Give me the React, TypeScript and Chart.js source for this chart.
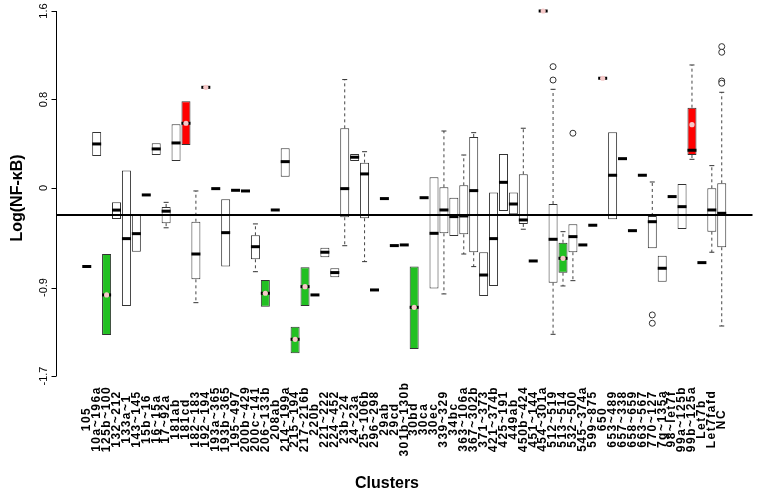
import React, { useEffect, useRef } from 'react';
import { Chart, registerables } from 'chart.js';

Chart.register(...registerables);

// ---------- data ----------
const clusters = [
  '105', '10a~196a', '125b~100', '132~212', '133a~1',
  '143~145', '15b~16', '16~15a', '17~92a', '181ab',
  '181cd', '182~183', '192~194', '193a~365', '193b~365',
  '195~497', '200b~429', '200c~141', '206~133b', '208ab',
  '214~199a', '215~194', '217~216b', '220b', '221~222',
  '224~452', '23b~24', '24~23a', '25~106b', '296~298',
  '29ab', '29cd', '301b~130b', '30bd', '30ca',
  '30ec', '339~329', '34bc', '363~106a', '367~302b',
  '371~373', '421~374b', '425~191', '449ab', '450b~424',
  '451~144', '454~301a', '512~519', '513~514', '532~500',
  '545~374a', '599~875', '650', '653~489', '657~338',
  '658~659', '663~567', '770~127', '7g~135a', '98~let7f',
  '99a~125b', '99b~125a', 'Let7b', 'Let7fafd', 'NC',
];

const medians = [
  -0.71, 0.398, -0.967, -0.2, -0.458,
  -0.413, -0.063, 0.353, -0.21, 0.407,
  0.585, -0.597, 0.91, -0.006, -0.404,
  -0.021, -0.027, -0.531, -0.952, -0.199,
  0.238, -1.368, -0.892, -0.967, -0.581,
  -0.765, -0.006, 0.278, 0.127, -0.922,
  -0.096, -0.521, -0.515, -1.079, -0.088,
  -0.41, -0.199, -0.259, -0.253, -0.024,
  -0.787, -0.458, 0.051, -0.145, -0.289,
  -0.66, 1.6, -0.464, -0.636, -0.44,
  -0.515, -0.337, 0.992, 0.115, 0.265,
  -0.386, 0.115, -0.305, -0.726, -0.078,
  -0.169, 0.341, -0.675, -0.199, -0.229,
];

const lowerQuartile = [
  null, 0.289, -1.329, -0.28, -1.067,
  -0.576, null, 0.298, -0.318, 0.244,
  0.389, -0.826, null, null, -0.711,
  null, null, -0.645, -1.073, null,
  0.102, -1.495, -1.067, null, -0.627,
  -0.808, -0.265, 0.244, -0.274, null,
  null, null, null, -1.456, null,
  -0.91, -0.41, -0.434, -0.419, -0.581,
  -0.976, -0.886, -0.208, -0.238, -0.325,
  null, null, -0.856, -0.766, -0.581,
  null, null, null, -0.283, null,
  null, null, -0.545, -0.847, null,
  -0.371, 0.298, null, -0.395, -0.536,
];

const upperQuartile = [
  null, 0.506, -0.597, -0.13, 0.157,
  -0.244, null, 0.404, -0.172, 0.576,
  0.784, -0.305, null, null, -0.102,
  null, null, -0.428, -0.832, null,
  0.359, -1.254, -0.717, null, -0.54,
  -0.726, 0.539, 0.307, 0.229, null,
  null, null, null, -0.711, null,
  0.097, 0.006, -0.088, 0.024, 0.461,
  -0.581, -0.042, 0.307, -0.042, 0.124,
  null, null, -0.145, -0.495, -0.328,
  null, null, null, 0.504, null,
  null, null, -0.253, -0.612, null,
  0.036, 0.726, null, -0.003, 0.042,
];

const lowerWhisker = [
  null, null, null, null, null,
  null, null, null, -0.36, null,
  null, -1.037, null, null, null,
  null, null, -0.757, null, null,
  null, null, null, null, null,
  null, -0.522, null, -0.666, null,
  null, null, null, null, null,
  null, -0.958, null, -0.597, -0.711,
  null, null, null, null, -0.373,
  null, null, -1.323, -0.886, -0.838,
  null, null, null, null, null,
  null, null, null, null, null,
  null, 0.259, null, -0.581, -1.248,
];

const upperWhisker = [
  null, null, null, null, null,
  null, null, null, -0.13, null,
  null, -0.027, null, null, null,
  null, null, -0.325, null, null,
  null, null, null, null, null,
  null, 0.98, null, 0.328, null,
  null, null, null, null, null,
  null, 0.515, null, 0.298, 0.5,
  null, null, null, null, 0.54,
  null, null, 0.892, -0.395, null,
  null, null, null, null, null,
  null, null, 0.054, null, null,
  null, 1.112, null, 0.202, 0.865,
];

const upClusters = ['181cd', '192~194', '454~301a', '650', '99b~125a'];
const upMeans = [0.585, 0.91, 1.6, 0.992, 0.572];
const downClusters = ['125b~100', '206~133b', '215~194', '217~216b', '30bd', '513~514'];
const downMeans = [-0.967, -0.952, -1.368, -0.892, -1.079, -0.636];

const outlierClusters = ['512~519', '512~519', '532~500', '770~127', '770~127', 'NC', 'NC', 'NC', 'NC'];
const outlierValues = [1.097, 0.976, 0.495, -1.148, -1.223, 1.278, 1.227, 0.967, 0.947];

const baselineValue = -0.244;
const yTicks = [1.6, 0.8, 0, -0.9, -1.7];
const yTitle = 'Log(NF-\u03baB)';
const xTitle = 'Clusters';

// ---------- component ----------
export default function App() {
  const ref = useRef<HTMLCanvasElement>(null);

  useEffect(() => {
    if (!ref.current) return;
    const n = clusters.length;
    const xMin = 0.5 - 0.04 * n;
    const xMax = n + 0.5 + 0.04 * n;

    const boxData: any[] = [];
    const boxFill: string[] = [];
    const whiskerData: any[] = [];
    const capData: any[] = [];
    const medianData: any[] = [];

    clusters.forEach((c, i) => {
      const x = i + 1;
      const q1 = lowerQuartile[i];
      const q3 = upperQuartile[i];
      if (q1 != null && q3 != null) {
        boxData.push({ x, y: [q1, q3] });
        boxFill.push(upClusters.includes(c) ? '#ff0000' : downClusters.includes(c) ? '#22c022' : '#ffffff');
      }
      const hi = upperWhisker[i];
      const lo = lowerWhisker[i];
      if (hi != null) {
        whiskerData.push({ x, y: q3 }, { x, y: hi }, { x, y: null });
        capData.push({ x, y: hi });
      }
      if (lo != null) {
        whiskerData.push({ x, y: q1 }, { x, y: lo }, { x, y: null });
        capData.push({ x, y: lo });
      }
      medianData.push({ x, y: medians[i] });
    });

    const meanData = [
      ...upClusters.map((c, k) => ({ x: clusters.indexOf(c) + 1, y: upMeans[k] })),
      ...downClusters.map((c, k) => ({ x: clusters.indexOf(c) + 1, y: downMeans[k] })),
    ];
    const outlierData = outlierClusters.map((c, k) => ({ x: clusters.indexOf(c) + 1, y: outlierValues[k] }));

    const axesPlugin = {
      id: 'rStyleAxes',
      afterDraw(chart: any) {
        const { ctx } = chart;
        const xs = chart.scales.x;
        const ys = chart.scales.y;
        const ax = Math.round(chart.chartArea.left) + 0.5;
        ctx.save();
        ctx.strokeStyle = '#000';
        ctx.lineWidth = 1;
        ctx.beginPath();
        ctx.moveTo(ax, ys.getPixelForValue(yTicks[0]));
        ctx.lineTo(ax, ys.getPixelForValue(yTicks[yTicks.length - 1]));
        yTicks.forEach((v) => {
          const py = Math.round(ys.getPixelForValue(v)) + 0.5;
          ctx.moveTo(ax, py);
          ctx.lineTo(ax - 5, py);
        });
        ctx.stroke();

        ctx.fillStyle = '#000';
        ctx.textAlign = 'center';
        ctx.textBaseline = 'middle';
        ctx.font = '11px "Liberation Sans", Arial, sans-serif';
        yTicks.forEach((v) => {
          ctx.save();
          ctx.translate(ax - 12.5, ys.getPixelForValue(v));
          ctx.rotate(-Math.PI / 2);
          ctx.fillText(String(v), 0, 0);
          ctx.restore();
        });

        ctx.font = 'bold 16px "Liberation Sans", Arial, sans-serif';
        ctx.save();
        ctx.translate(18, 198);
        ctx.rotate(-Math.PI / 2);
        ctx.fillText(yTitle, 0, 0);
        ctx.restore();
        ctx.fillText(xTitle, 387, 484);

        ctx.font = 'bold 12px "Liberation Sans", Arial, sans-serif';
        (ctx as any).letterSpacing = '1.5px';
        clusters.forEach((c, i) => {
          ctx.save();
          ctx.translate(xs.getPixelForValue(i + 1), 419);
          ctx.rotate(-Math.PI / 2);
          ctx.fillText(c, 0, 0);
          ctx.restore();
        });
        (ctx as any).letterSpacing = '0px';
        ctx.restore();
      },
    };

    const chart = new Chart(ref.current, {
      type: 'bar',
      data: {
        datasets: [
          {
            type: 'scatter',
            data: meanData,
            pointStyle: 'circle',
            pointRadius: 2.6,
            backgroundColor: '#f5c8c8',
            borderWidth: 0,
            clip: false,
            order: 0,
          } as any,
          {
            type: 'scatter',
            data: outlierData,
            pointStyle: 'circle',
            pointRadius: 3,
            backgroundColor: '#ffffff',
            borderColor: '#333',
            borderWidth: 1,
            clip: false,
            order: 0,
          } as any,
          {
            type: 'scatter',
            data: medianData,
            pointStyle: 'line',
            pointRadius: 4.5,
            borderColor: '#000',
            borderWidth: 3,
            clip: false,
            order: 1,
          } as any,
          {
            type: 'line',
            data: [
              { x: xMin, y: baselineValue },
              { x: xMax, y: baselineValue },
            ],
            borderColor: '#000',
            borderWidth: 2,
            pointRadius: 0,
            clip: false,
            order: 2,
          } as any,
          {
            type: 'scatter',
            data: capData,
            pointStyle: 'line',
            pointRadius: 2.5,
            borderColor: '#333',
            borderWidth: 1,
            clip: false,
            order: 3,
          } as any,
          {
            type: 'line',
            data: whiskerData,
            borderColor: '#444',
            borderWidth: 1,
            borderDash: [3, 3],
            pointRadius: 0,
            spanGaps: false,
            clip: false,
            order: 4,
          } as any,
          {
            type: 'bar',
            data: boxData,
            backgroundColor: boxFill,
            borderColor: '#333',
            borderWidth: 1,
            borderSkipped: false,
            barThickness: 9,
            inflateAmount: 0,
            clip: false,
            order: 5,
          } as any,
        ],
      },
      options: {
        animation: false,
        responsive: false,
        events: [],
        layout: { padding: { left: 56, right: 4, top: 11, bottom: 120 } },
        scales: {
          x: { type: 'linear', min: xMin, max: xMax, offset: false, display: false },
          y: { type: 'linear', min: -1.7, max: 1.6, display: false },
        },
        plugins: {
          legend: { display: false },
          tooltip: { enabled: false },
        },
      } as any,
      plugins: [axesPlugin],
    });

    return () => chart.destroy();
  }, []);

  return (
    <div style={{ position: 'absolute', left: 0, top: 0, width: 760, height: 496, background: '#fff' }}>
      <canvas ref={ref} width={760} height={496} style={{ display: 'block' }} />
    </div>
  );
}
